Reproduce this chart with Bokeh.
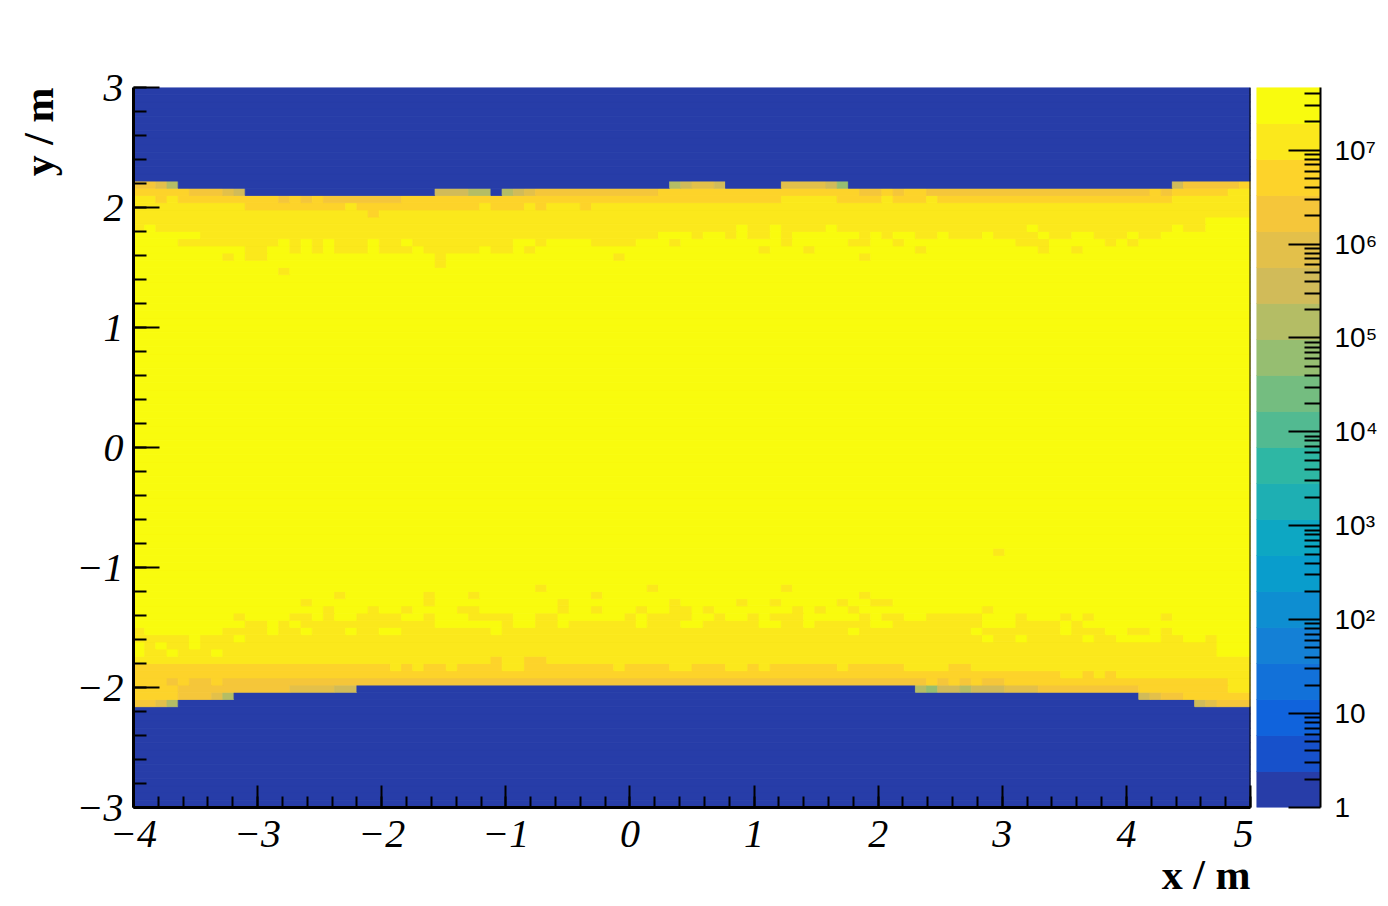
import sys
import numpy as np
from bokeh.plotting import figure
from bokeh.models import (ColumnDataSource, Range1d, FixedTicker, CustomJSTickFormatter,
                          Title, Span)
from bokeh.layouts import row
from bokeh.transform import log_cmap
from bokeh.embed import file_html
from bokeh.resources import INLINE

# ---------------- data ----------------
X_MIN, X_MAX, NX = -4.0, 5.0, 100
Y_MIN, Y_MAX, NY = -3.0, 3.0, 100
Z_MIN, Z_MAX = 1.0, 4.65e7
N_LEVELS = 20

X_TICKS = [-4, -3, -2, -1, 0, 1, 2, 3, 4, 5]
Y_TICKS = [-3, -2, -1, 0, 1, 2, 3]
CBAR_TICKS = [1, 10, 100, 1000, 10000, 100000, 1000000, 10000000]

X_TITLE = "x / m"
Y_TITLE = "y / m"

# colour level (0..19) of each cell
CORE_LEVEL = 19          # level of the central band
LOW_ROWS_END = 14        # rows j < 14 are at the lowest level
HIGH_ROWS_START = 87     # rows j >= 87 are at the lowest level

# run-length rows: "level:count" (count 1 if omitted), columns i = 0..99
EDGE_ROWS = {
    86: "16:2 15 13 0:44 13 14 15:2 14 0:5 15:4 14 12 0:29 14 16:5 17",
    85: "17:5 16:3 15 14 0:17 14:3 13:2 0 13 14 15 16:11 17:18 16:2 17 16 17:2 16:20 17 16 17:5 18:2",
    84: "18:2 17 18 17:9 16 17 16 17 16:7 17:34 18:5 17:4 18 17:3 18 17:21 18:7",
    83: "18:10 17:9 18 17:11 18 17:3 18 17 18:3 17 18:59",
    82: "18:21 17 18:78",
    81: "18:96 19:4",
    80: "18 19 18:52 19 18:2 19 18:4 19 18:17 19 18:12 19 18:2 19:4",
    79: "19:6 18:41 19:3 18 19:2 18 19 18:2 19 18 19:6 18 19 18 19:2 18:2 19 18:3 19 18:4 19 18:2 19:2 18:3 19 18:2 19:8",
    78: "19:4 18:9 19 18 19 18 19 18:3 19 18:2 19 18:9 19:2 18 19:4 18:4 19:3 18 19:9 18 19:5 18:2 19:2 18 19:10 18:3 19:5 18 19 18 19:10",
    77: "19:10 18:2 19:2 18 19 18 19 18:3 19 18:3 19 18:5 19 18:2 19 18 19:20 18 19:3 18 19:9 18 19:10 18 19:2 18 19:15",
    24: "18 19:7 18:4 19 18:2 19 18:3 19 18:2 19:2 18:8 19 18:31 19 18:10 19 18:7 19 18:3 19:2 18:2 19 18 19:7",
    23: "18:5 19 18:3 19 18:66 19 18:2 19 18:5 19 18:2 19:4 18:2 19:2 18 19:3",
    22: "19 18 19 18:2 19 18:91 19:3",
    21: "19 18:2 19 18:3 19 18:89 19:3",
    20: "18:32 17 18:2 17:2 18:63",
    19: "17:23 18 17 18 17:2 18 17:4 18:2 17:8 18 17:4 18:2 17:3 18:2 17 18 17:6 18 17:5 18:4 17:2 18:25",
    18: "17:83 18:2 17 18 17 18:12",
    17: "17:3 16 17 16:2 17 16:63 17 16 17 16 17 16:2 17:20 18:2",
    16: "17:4 16:10 15:4 14:2 0:50 13 12 14:2 13 14:3 15:3 16:9 17:8 18:2",
    15: "17:4 16:3 15 13 0:81 14 15 16:2 17:6",
    14: "16:2 15 13 0:91 14 15 16:3",
}

# single cells one level below the core (level 18) inside the core
SPECKLE_18 = {
    76: [8, 10, 11, 27, 43, 65],
    75: [27],
    74: [13],
    35: [77],
    30: [36, 46, 58],
    29: [18, 26, 30, 41, 65],
    28: [15, 26, 38, 48, 54, 57, 63, 66, 67],
    27: [17, 21, 24, 29, 30, 38, 41, 45, 48, 49, 51, 59, 61, 64, 76],
    26: [9, 14, 15, 17, 20, 21, 22, 23, 26, 30, 31, 32, 33, 36, 37, 44, 46, 47, 48, 49,
         52, 55, 57, 58, 59, 65, 67, 68, 71, 72, 73, 74, 75, 79, 83, 85, 92],
    25: [10, 11, 13, 15, 16, 17, 18, 19, 20, 21, 22, 23, 24, 25, 26, 33, 36, 37, 39, 40,
         41, 42, 43, 44, 46, 47, 48, 51, 52, 53, 54, 55, 58, 59, 61, 62, 63, 64, 65, 68,
         69, 70, 71, 72, 73, 74, 75, 79, 80, 81, 82, 84],
}

# ---------------- palette (ROOT kBird, 20 contour levels) ----------------
BIRD_STOPS = [0.0, 0.125, 0.25, 0.375, 0.5, 0.625, 0.75, 0.875, 1.0]
BIRD_R = [0.2082, 0.0592, 0.0780, 0.0232, 0.1802, 0.5301, 0.8186, 0.9956, 0.9764]
BIRD_G = [0.1664, 0.3599, 0.5041, 0.6419, 0.7178, 0.7492, 0.7328, 0.7862, 0.9832]
BIRD_B = [0.5293, 0.8684, 0.8385, 0.7914, 0.6425, 0.4662, 0.3499, 0.1968, 0.0539]
PALETTE = []
for ic in range(N_LEVELS):
    f = int((ic + 0.99) * 255 / N_LEVELS) / 254.0
    rgb = [int(round(255 * np.interp(f, BIRD_STOPS, ch))) for ch in (BIRD_R, BIRD_G, BIRD_B)]
    PALETTE.append("#%02x%02x%02x" % tuple(rgb))

# ---------------- build the level grid ----------------
def parse_runs(s):
    out = []
    for tok in s.split():
        if ":" in tok:
            lv, n = tok.split(":")
            out.append((int(lv), int(n)))
        else:
            out.append((int(tok), 1))
    return out

levels = np.full((NY, NX), CORE_LEVEL, dtype=int)
levels[:LOW_ROWS_END] = 0
levels[HIGH_ROWS_START:] = 0
for j, s in EDGE_ROWS.items():
    cells = []
    for lv, n in parse_runs(s):
        cells += [lv] * n
    if len(cells) != NX:
        print("row", j, "has", len(cells), "cells", file=sys.stderr)
    cells = (cells + [CORE_LEVEL] * NX)[:NX]
    levels[j] = cells
for j, idx in SPECKLE_18.items():
    levels[j, idx] = 18

LOGMAX = np.log10(Z_MAX)
dx = (X_MAX - X_MIN) / NX
dy = (Y_MAX - Y_MIN) / NY

left, right, bottom, top, value = [], [], [], [], []
for j in range(NY):
    i = 0
    while i < NX:
        lv = levels[j, i]
        k = i
        while k < NX and levels[j, k] == lv:
            k += 1
        left.append(X_MIN + i * dx)
        right.append(X_MIN + k * dx)
        bottom.append(Y_MIN + j * dy)
        top.append(Y_MIN + (j + 1) * dy)
        value.append(10 ** ((lv + 0.5) * LOGMAX / N_LEVELS))
        i = k

src = ColumnDataSource(dict(left=left, right=right, bottom=bottom, top=top, value=value))
cmap = log_cmap("value", PALETTE, Z_MIN, Z_MAX)

# ---------------- main figure ----------------
p = figure(width=1253, height=906,
           x_range=Range1d(X_MIN, X_MAX), y_range=Range1d(Y_MIN, Y_MAX),
           output_backend="svg", toolbar_location=None,
           min_border_left=133, min_border_right=3, min_border_top=87, min_border_bottom=99)
p.title.visible = False
p.quad(left="left", right="right", bottom="bottom", top="top", source=src,
       fill_color=cmap, line_color=cmap, line_width=0.8)

p.grid.visible = False
p.outline_line_color = None
p.background_fill_color = "white"
p.border_fill_color = "white"

minus_fmt = CustomJSTickFormatter(code="""
    return tick < 0 ? "\\u2212" + Math.abs(tick).toString() : tick.toString();
""")

p.xaxis.ticker = FixedTicker(ticks=X_TICKS,
                             minor_ticks=[round(X_MIN + 0.2 * k, 2) for k in range(46)])
p.yaxis.ticker = FixedTicker(ticks=Y_TICKS,
                             minor_ticks=[round(Y_MIN + 0.2 * k, 2) for k in range(31)])
for ax, maj, mnr, stand in ((p.xaxis, 22, 11, 13), (p.yaxis, 26, 13, 10)):
    ax.formatter = minus_fmt
    ax.axis_line_width = 3
    ax.axis_line_color = "black"
    ax.major_tick_in = maj
    ax.major_tick_out = 0
    ax.minor_tick_in = mnr
    ax.minor_tick_out = 0
    ax.major_tick_line_width = 2
    ax.minor_tick_line_width = 2
    ax.major_tick_line_color = "black"
    ax.minor_tick_line_color = "black"
    ax.major_label_text_font = "Liberation Serif"
    ax.major_label_text_font_style = "italic"
    ax.major_label_text_font_size = "40px"
    ax.major_label_text_color = "black"
    ax.major_label_standoff = stand

p.add_layout(Span(location=X_MAX, dimension="height", line_color="black", line_width=2))

p.add_layout(Title(text=Y_TITLE, align="right", standoff=24,
                   text_font="Liberation Serif", text_font_style="bold",
                   text_font_size="42px", text_color="black"), "left")
p.add_layout(Title(text=X_TITLE, align="right", standoff=0,
                   text_font="Liberation Serif", text_font_style="bold",
                   text_font_size="42px", text_color="black"), "below")

# ---------------- colour bar ----------------
band_lo = [10 ** (k * LOGMAX / N_LEVELS) for k in range(N_LEVELS)]
band_hi = [10 ** ((k + 1) * LOGMAX / N_LEVELS) for k in range(N_LEVELS)]
band_mid = [10 ** ((k + 0.5) * LOGMAX / N_LEVELS) for k in range(N_LEVELS)]
cb_src = ColumnDataSource(dict(left=[0] * N_LEVELS, right=[1] * N_LEVELS,
                               bottom=band_lo, top=band_hi, value=band_mid))

cb = figure(width=133, height=906, x_range=Range1d(0, 1), y_range=Range1d(Z_MIN, Z_MAX),
            y_axis_type="log", x_axis_location=None, y_axis_location="right",
            output_backend="svg", toolbar_location=None,
            min_border_left=3, min_border_right=66, min_border_top=87, min_border_bottom=99)
cb.title.visible = False
cb.quad(left="left", right="right", bottom="bottom", top="top", source=cb_src,
        fill_color=cmap, line_color=cmap, line_width=0.8)
cb.grid.visible = False
cb.outline_line_color = None

cb_minor = [m * 10 ** e for e in range(8) for m in range(2, 10) if m * 10 ** e <= Z_MAX]
ya = cb.yaxis[0]
ya.ticker = FixedTicker(ticks=CBAR_TICKS, minor_ticks=cb_minor)
ya.formatter = CustomJSTickFormatter(code="""
    const e = Math.round(Math.log10(tick));
    if (e === 0) return "1";
    if (e === 1) return "10";
    const sup = ["\\u2070","\\u00b9","\\u00b2","\\u00b3","\\u2074","\\u2075","\\u2076","\\u2077","\\u2078","\\u2079"];
    return "10" + sup[e];
""")
ya.axis_line_width = 2
ya.axis_line_color = "black"
ya.major_tick_in = 32
ya.major_tick_out = 0
ya.minor_tick_in = 16
ya.minor_tick_out = 0
ya.major_tick_line_width = 2
ya.minor_tick_line_width = 2
ya.major_label_text_font = "Liberation Sans"
ya.major_label_text_font_size = "28px"
ya.major_label_text_color = "black"
ya.major_label_standoff = 14

layout = row(p, cb)
with open("out.html", "w", encoding="utf-8") as fh:
    fh.write(file_html(layout, INLINE))
